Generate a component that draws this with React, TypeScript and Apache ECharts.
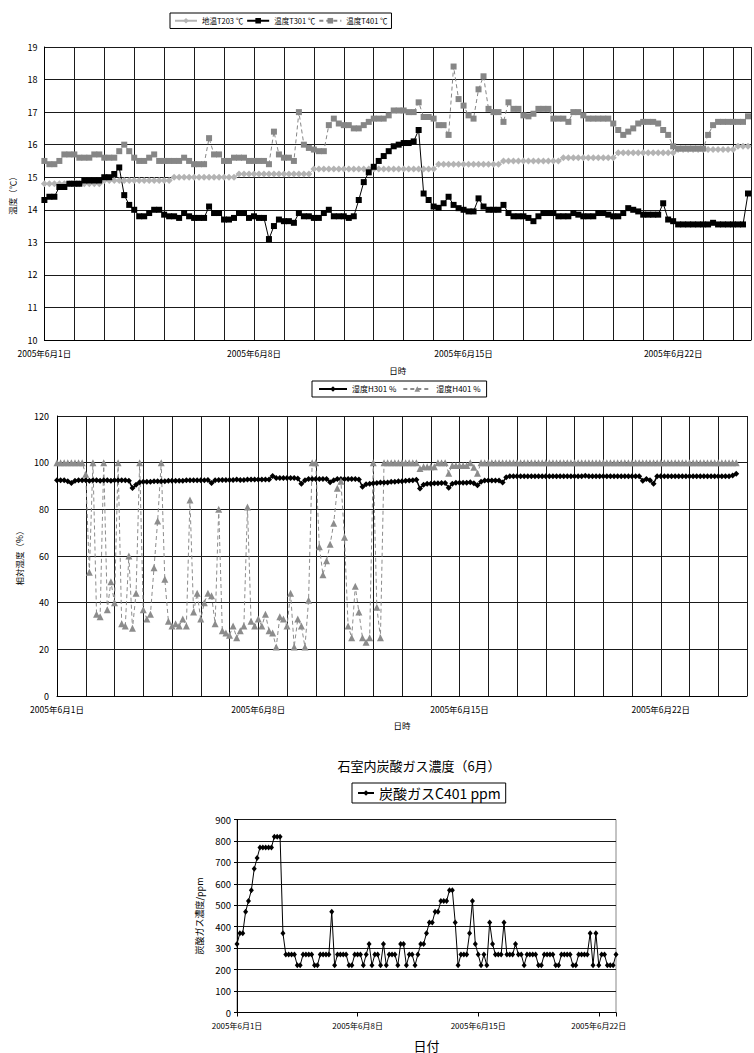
import React, { useEffect, useRef } from 'react';
import * as echarts from 'echarts';

const FONT = "'Noto Sans CJK JP', 'Noto Sans', sans-serif";

// x values are days since 2005-06-01 00:00
const dateTickDays = [0, 7, 14, 21];
const dateTickLabels = ['2005年6月1日', '2005年6月8日', '2005年6月15日', '2005年6月22日'];

// ---- Chart 1: temperature, one reading every 4 hours ----
const tempPerDay = 6;
const t203 = [
  14.8, 14.8, 14.8, 14.8, 14.8, 14.8,
  14.8, 14.8, 14.8, 14.8, 14.8, 14.8,
  14.9, 14.9, 14.9, 14.9, 14.9, 14.9,
  14.9, 14.9, 14.9, 14.9, 14.9, 14.9,
  14.9, 14.9, 15.0, 15.0, 15.0, 15.0,
  15.0, 15.0, 15.0, 15.0, 15.0, 15.0,
  15.0, 15.0, 15.0, 15.1, 15.1, 15.1,
  15.1, 15.1, 15.1, 15.1, 15.1, 15.1,
  15.1, 15.1, 15.1, 15.1, 15.1, 15.1,
  15.25, 15.25, 15.25, 15.25, 15.25, 15.25,
  15.25, 15.25, 15.25, 15.25, 15.25, 15.25,
  15.25, 15.25, 15.25, 15.25, 15.25, 15.25,
  15.25, 15.25, 15.25, 15.25, 15.25, 15.25,
  15.25, 15.4, 15.4, 15.4, 15.4, 15.4,
  15.4, 15.4, 15.4, 15.4, 15.4, 15.4,
  15.4, 15.4, 15.5, 15.5, 15.5, 15.5,
  15.5, 15.5, 15.5, 15.5, 15.5, 15.5,
  15.5, 15.5, 15.6, 15.6, 15.6, 15.6,
  15.6, 15.6, 15.6, 15.6, 15.6, 15.6,
  15.6, 15.75, 15.75, 15.75, 15.75, 15.75,
  15.75, 15.75, 15.75, 15.75, 15.75, 15.75,
  15.75, 15.85, 15.85, 15.85, 15.85, 15.85,
  15.85, 15.85, 15.85, 15.85, 15.85, 15.85,
  15.85, 15.95, 15.95, 15.95,
];
const t301 = [
  14.3, 14.4, 14.4, 14.7, 14.7, 14.8,
  14.8, 14.8, 14.9, 14.9, 14.9, 14.9,
  15.0, 15.0, 15.1, 15.3, 14.45, 14.15,
  14.0, 13.8, 13.8, 13.9, 14.0, 14.0,
  13.85, 13.8, 13.8, 13.75, 13.9, 13.8,
  13.75, 13.75, 13.75, 14.1, 13.9, 13.9,
  13.7, 13.7, 13.75, 13.9, 13.9, 13.75,
  13.8, 13.75, 13.75, 13.1, 13.5, 13.7,
  13.65, 13.65, 13.6, 13.9, 13.8, 13.8,
  13.75, 13.75, 13.9, 14.0, 13.8, 13.8,
  13.8, 13.75, 13.8, 14.3, 14.85, 15.15,
  15.32, 15.5, 15.65, 15.8, 15.95, 16.0,
  16.05, 16.05, 16.1, 16.45, 14.5, 14.3,
  14.1, 14.06, 14.2, 14.4, 14.15, 14.05,
  14.0, 13.95, 13.95, 14.35, 14.1, 14.0,
  14.0, 14.0, 14.15, 13.9, 13.8, 13.8,
  13.8, 13.75, 13.65, 13.8, 13.9, 13.9,
  13.9, 13.8, 13.8, 13.8, 13.9, 13.85,
  13.8, 13.8, 13.8, 13.9, 13.9, 13.85,
  13.8, 13.8, 13.9, 14.05, 14.0, 13.95,
  13.85, 13.85, 13.85, 13.85, 14.2, 13.7,
  13.65, 13.55, 13.55, 13.55, 13.55, 13.55,
  13.55, 13.55, 13.6, 13.55, 13.55, 13.55,
  13.55, 13.55, 13.55, 14.5,
];
const t401 = [
  15.5, 15.4, 15.4, 15.5, 15.7, 15.7,
  15.7, 15.6, 15.6, 15.6, 15.7, 15.7,
  15.6, 15.6, 15.6, 15.8, 16.0, 15.8,
  15.6, 15.5, 15.5, 15.6, 15.7, 15.5,
  15.5, 15.5, 15.5, 15.5, 15.6, 15.5,
  15.4, 15.4, 15.4, 16.2, 15.7, 15.7,
  15.5, 15.5, 15.6, 15.6, 15.6, 15.5,
  15.5, 15.5, 15.5, 15.4, 16.4, 15.7,
  15.6, 15.6, 15.5, 17.0, 16.0, 15.9,
  15.85, 15.8, 15.8, 16.6, 16.8, 16.65,
  16.6, 16.6, 16.5, 16.5, 16.6, 16.7,
  16.8, 16.8, 16.8, 16.9, 17.05, 17.05,
  17.05, 17.0, 17.0, 17.3, 16.85, 16.85,
  16.8, 16.6, 16.6, 16.3, 18.4, 17.4,
  17.2, 16.9, 16.8, 17.7, 18.1, 17.1,
  17.0, 17.0, 16.7, 17.3, 17.1, 17.1,
  16.9, 16.87, 16.95, 17.1, 17.1, 17.1,
  16.8, 16.8, 16.8, 16.7, 17.0, 17.0,
  16.9, 16.8, 16.8, 16.8, 16.8, 16.8,
  16.65, 16.45, 16.3, 16.4, 16.5, 16.65,
  16.7, 16.7, 16.7, 16.65, 16.45, 16.3,
  15.95, 15.88, 15.88, 15.88, 15.88, 15.88,
  15.88, 16.3, 16.6, 16.7, 16.7, 16.7,
  16.7, 16.7, 16.7, 16.87,
];

// ---- Chart 2: relative humidity, one reading every 3 hours ----
const humPerDay = 8;
const h301 = [
  92.5, 92.5, 92.5, 92, 91.3, 92.3, 92.5, 92.5,
  92.5, 92.3, 92.5, 92.5, 92.3, 92.5, 92.5, 92.3,
  92.5, 92.5, 92.5, 92.5, 92.3, 89.1, 90.5, 91.6,
  91.8, 91.8, 91.8, 92, 92, 92, 92, 92.2,
  92.3, 92.3, 92.3, 92.3, 92.5, 92.5, 92.5, 92.5,
  92.5, 92.5, 92.6, 91.3, 92.5, 92.6, 92.6, 92.6,
  92.6, 92.6, 92.8, 92.6, 92.6, 92.8, 92.8, 92.8,
  92.8, 92.8, 92.8, 92.8, 94.3, 93.4, 93.4, 93.4,
  93.4, 93.4, 93.4, 93.2, 91, 92.5, 93, 93,
  93, 93, 93, 93, 91.6, 92.5, 93, 93,
  93, 93, 93, 93, 92.8, 89.7, 90.8, 91,
  91.2, 91.3, 91.5, 91.5, 91.5, 91.8, 91.8, 92,
  92, 92.2, 92.4, 92.5, 92.7, 88.9, 90.5, 91,
  91, 91.2, 91.2, 91.3, 91.3, 89.3, 91, 91.4,
  91.4, 91.4, 91.4, 91.6, 91.2, 90.3, 91.8, 92.4,
  92.4, 92.4, 92.4, 92.4, 91.5, 93.8, 94.2, 94.2,
  94.2, 94.2, 94.2, 94.2, 94.2, 94.2, 94.2, 94.2,
  94.2, 94.2, 94.2, 94.2, 94.2, 94.2, 94.2, 94.2,
  94.2, 94.2, 94.2, 94.4, 94.2, 94.2, 94.2, 94.2,
  94.2, 94.2, 94.2, 94.2, 94.2, 94.2, 94.2, 94.2,
  94.2, 94.2, 94.2, 92.2, 93, 92.5, 91, 94.2,
  94.2, 94.2, 94.2, 94.2, 94.2, 94.2, 94.2, 94.2,
  94.2, 94.2, 94.2, 94.2, 94.2, 94.2, 94.2, 94.2,
  94.2, 94.2, 94.2, 94.2, 94.5, 95.3,
];
const h401 = [
  100, 100, 100, 100, 100, 100, 100, 100,
  95, 53, 100, 35, 34, 100, 37, 49,
  40, 100, 31, 30, 60, 29, 44, 100,
  37, 33, 35, 55, 75, 100, 50, 32,
  30, 31, 30, 33, 30, 84, 36, 44,
  33, 40, 44, 43, 31, 80, 28, 27,
  26, 30, 25, 28, 30, 81, 32, 30,
  33, 30, 35, 28, 27, 21, 34, 33,
  30, 44, 21, 33, 30, 21, 41, 100,
  100, 64, 52, 58, 65, 74, 89, 92,
  68, 30, 25, 47, 36, 25, 23, 25,
  100, 38, 25, 100, 100, 100, 100, 100,
  100, 100, 100, 100, 100, 97.5, 98.2, 98.2,
  98.2, 98.2, 100, 100, 100, 95.5, 98.8, 98.8,
  98.8, 98.8, 98.8, 100, 98, 95.5, 100, 100,
  100, 100, 100, 100, 100, 100, 100, 100,
  100, 100, 100, 100, 100, 100, 100, 100,
  100, 100, 100, 100, 100, 100, 100, 100,
  100, 100, 100, 100, 100, 100, 100, 100,
  100, 100, 100, 100, 100, 100, 100, 100,
  100, 100, 100, 100, 100, 100, 100, 100,
  100, 100, 100, 100, 100, 100, 100, 100,
  100, 100, 100, 100, 100, 100, 100, 100,
  100, 100, 100, 100, 100, 100,
];

// ---- Chart 3: CO2, one reading every 4 hours ----
const co2PerDay = 6;
const c401 = [
  320, 370, 370, 470, 520, 570,
  670, 720, 770, 770, 770, 770,
  770, 820, 820, 820, 370, 270,
  270, 270, 270, 220, 220, 270,
  270, 270, 270, 220, 220, 270,
  270, 270, 270, 470, 220, 270,
  270, 270, 270, 220, 220, 270,
  270, 270, 220, 270, 320, 220,
  270, 270, 220, 320, 220, 270,
  270, 270, 220, 320, 320, 220,
  270, 270, 220, 270, 320, 320,
  370, 420, 420, 470, 470, 520,
  520, 520, 570, 570, 420, 220,
  270, 270, 270, 370, 520, 320,
  270, 220, 270, 220, 420, 320,
  270, 270, 270, 420, 270, 270,
  270, 320, 270, 270, 220, 270,
  270, 270, 270, 220, 220, 270,
  270, 270, 270, 220, 220, 270,
  270, 270, 270, 220, 220, 270,
  270, 270, 270, 370, 220, 370,
  220, 270, 270, 220, 220, 220,
  270,
];

const pairs = (vals: number[], perDay: number) => vals.map((v, i) => [i / perDay, v]);
const dateLabel = (v: number) => {
  const k = dateTickDays.indexOf(v);
  return k >= 0 ? dateTickLabels[k] : '';
};

const BLACK = '#000';
const txt = (size: number) => ({ color: BLACK, fontSize: size, fontFamily: FONT });
const grid = { show: true, lineStyle: { color: '#1a1a1a', width: 1 } };
const axisLine = { show: true, onZero: false, lineStyle: { color: BLACK, width: 1 } };

const option: any = {
  animation: false,
  textStyle: { fontFamily: FONT },
  grid: [
    { left: 43, top: 47, width: 711, height: 293 },
    { left: 57, top: 416, width: 690, height: 280 },
    { left: 237, top: 819.5, width: 379, height: 193, show: true, borderColor: '#888', borderWidth: 1 },
  ],
  xAxis: [
    {
      gridIndex: 0, type: 'value', min: 0, max: 23.6, interval: 1,
      axisLine, axisTick: { show: false }, splitLine: grid,
      axisLabel: { ...txt(8.5), margin: 9, formatter: dateLabel },
      name: '日時', nameLocation: 'middle', nameGap: 26, nameTextStyle: txt(8.5),
    },
    {
      gridIndex: 1, type: 'value', min: 0, max: 24, interval: 1,
      axisLine, axisTick: { show: false }, splitLine: grid,
      axisLabel: { ...txt(8.5), margin: 9, formatter: dateLabel },
      name: '日時', nameLocation: 'middle', nameGap: 25, nameTextStyle: txt(8.5),
    },
    {
      gridIndex: 2, type: 'value', min: 0, max: 22, interval: 7,
      axisLine, axisTick: { show: true, length: 4, lineStyle: { color: BLACK } }, splitLine: { show: false },
      axisLabel: { ...txt(8), margin: 9, formatter: dateLabel },
      name: '日付', nameLocation: 'middle', nameGap: 26, nameTextStyle: txt(13),
    },
  ],
  yAxis: [
    {
      gridIndex: 0, type: 'value', min: 10, max: 19, interval: 1,
      axisLine, axisTick: { show: false }, splitLine: grid,
      axisLabel: { ...txt(9), margin: 7 },
      name: '温度（℃）', nameLocation: 'middle', nameGap: 24, nameRotate: 90, nameTextStyle: txt(8.5),
    },
    {
      gridIndex: 1, type: 'value', min: 0, max: 120, interval: 20,
      axisLine, axisTick: { show: false }, splitLine: grid,
      axisLabel: { ...txt(9), margin: 8 },
      name: '相対湿度（%）', nameLocation: 'middle', nameGap: 27, nameRotate: 90, nameTextStyle: txt(8.5),
    },
    {
      gridIndex: 2, type: 'value', min: 0, max: 900, interval: 100,
      axisLine, axisTick: { show: true, length: 3, lineStyle: { color: BLACK } }, splitLine: grid,
      axisLabel: { ...txt(9.5), margin: 6 },
      name: '炭酸ガス濃度/ppm', nameLocation: 'middle', nameGap: 30, nameRotate: 90, nameTextStyle: txt(9),
    },
  ],
  legend: [
    {
      data: ['地温T203 ℃', '温度T301 ℃', '温度T401 ℃'], left: 170, top: 13,
      borderColor: BLACK, borderWidth: 1, padding: [4, 4], itemGap: 3, itemWidth: 22, itemHeight: 7,
      textStyle: txt(7.5), selectedMode: false,
    },
    {
      data: ['湿度H301 %', '湿度H401 %'], left: 312, top: 381,
      borderColor: BLACK, borderWidth: 1, padding: [4, 6], itemGap: 6, itemWidth: 28, itemHeight: 7,
      textStyle: txt(8), selectedMode: false,
    },
    {
      data: ['炭酸ガスC401 ppm'], left: 352, top: 783,
      borderColor: BLACK, borderWidth: 1, padding: [3, 5], itemGap: 4, itemWidth: 16, itemHeight: 7,
      textStyle: txt(14), selectedMode: false,
    },
  ],
  graphic: [
    {
      type: 'text', x: 419, y: 765, silent: true,
      style: { text: '石室内炭酸ガス濃度（6月）', fill: BLACK, fontSize: 13, fontFamily: FONT, align: 'center', verticalAlign: 'middle' },
    },
  ],
  series: [
    {
      name: '地温T203 ℃', type: 'line', xAxisIndex: 0, yAxisIndex: 0, data: pairs(t203, tempPerDay),
      symbol: 'diamond', symbolSize: 7, showAllSymbol: true,
      itemStyle: { color: '#b4b4b4' }, lineStyle: { color: '#b4b4b4', width: 1 }, silent: true,
    },
    {
      name: '温度T301 ℃', type: 'line', xAxisIndex: 0, yAxisIndex: 0, data: pairs(t301, tempPerDay),
      symbol: 'rect', symbolSize: 6, showAllSymbol: true,
      itemStyle: { color: '#000' }, lineStyle: { color: '#000', width: 1 }, silent: true,
    },
    {
      name: '温度T401 ℃', type: 'line', xAxisIndex: 0, yAxisIndex: 0, data: pairs(t401, tempPerDay),
      symbol: 'rect', symbolSize: 6, showAllSymbol: true,
      itemStyle: { color: '#868686' }, lineStyle: { color: '#868686', width: 1, type: [4, 3] }, silent: true,
    },
    {
      name: '湿度H301 %', type: 'line', xAxisIndex: 1, yAxisIndex: 1, data: pairs(h301, humPerDay),
      symbol: 'diamond', symbolSize: 6, showAllSymbol: true,
      itemStyle: { color: '#000' }, lineStyle: { color: '#000', width: 1.5 }, silent: true,
    },
    {
      name: '湿度H401 %', type: 'line', xAxisIndex: 1, yAxisIndex: 1, data: pairs(h401, humPerDay),
      symbol: 'triangle', symbolSize: 7, showAllSymbol: true,
      itemStyle: { color: '#8c8c8c' }, lineStyle: { color: '#8c8c8c', width: 1, type: [4, 3] }, silent: true,
    },
    {
      name: '炭酸ガスC401 ppm', type: 'line', xAxisIndex: 2, yAxisIndex: 2, data: pairs(c401, co2PerDay),
      symbol: 'diamond', symbolSize: [5, 6], showAllSymbol: true,
      itemStyle: { color: '#000' }, lineStyle: { color: '#000', width: 1 }, silent: true,
    },
  ],
};

export default function App() {
  const ref = useRef<HTMLDivElement>(null);
  useEffect(() => {
    const chart = echarts.init(ref.current as HTMLDivElement, null, { renderer: 'svg' });
    chart.setOption(option);
    return () => chart.dispose();
  }, []);
  return (
    <div
      ref={ref}
      style={{ position: 'absolute', left: 0, top: 0, width: 754, height: 1053, background: '#fff' }}
    />
  );
}
